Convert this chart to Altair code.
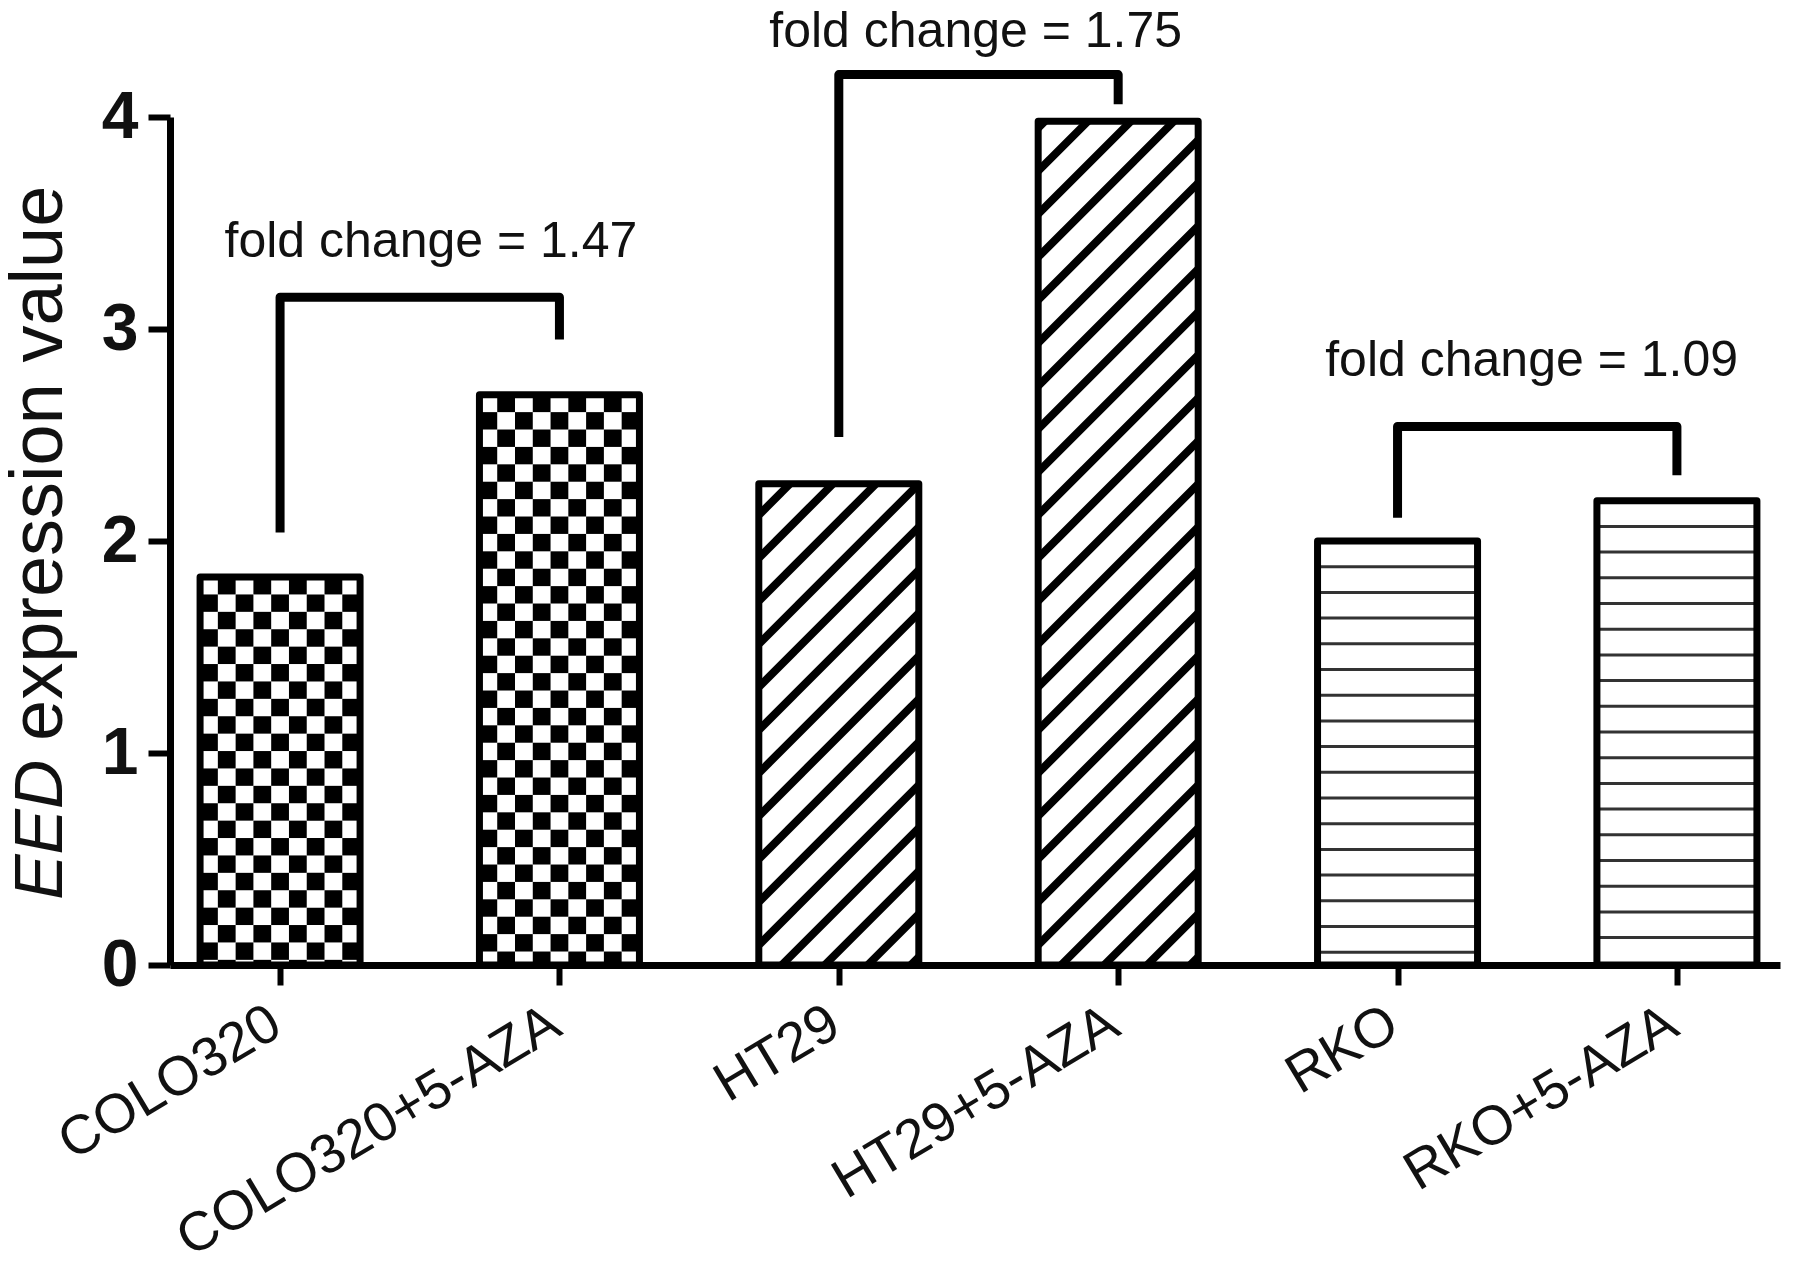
import json
import numpy as np
import pandas as pd
import altair as alt

# ---------------- data ----------------
categories = ["COLO320", "COLO320+5-AZA", "HT29", "HT29+5-AZA", "RKO", "RKO+5-AZA"]
values = [1.83, 2.69, 2.27, 3.98, 2.00, 2.19]
patterns = ["checker", "checker", "hatch", "hatch", "lines", "lines"]
y_ticks = [0, 1, 2, 3, 4]

bracket_left = [0, 2, 4]
bracket_right = [1, 3, 5]
bracket_left_bottom = [2.04, 2.49, 2.11]
bracket_top = [3.15, 4.20, 2.54]
bracket_right_bottom = [2.95, 4.06, 2.31]
fold_text = ["fold change = 1.47", "fold change = 1.75", "fold change = 1.09"]
fold_text_x = [0.54, 2.49, 4.48]
fold_text_y = [3.34, 4.33, 2.78]

# ---------------- layout / style ----------------
W, H = 1610, 848
X_DOM = [-0.394, 5.369]
Y_DOM = [0, 4]
PX_X = W / (X_DOM[1] - X_DOM[0])
PX_Y = H / (Y_DOM[1] - Y_DOM[0])
BAR_PX = 160
HALF = BAR_PX / 2 / PX_X
FONT = "Liberation Sans"

xs = alt.Scale(domain=X_DOM, nice=False, zero=False)
ys = alt.Scale(domain=Y_DOM, nice=False, zero=False)

label_expr = json.dumps(categories) + "[datum.value]"
XAXIS = alt.Axis(
    values=list(range(len(categories))), labelExpr=label_expr, title=None,
    grid=False, domainWidth=7, domainColor="black", tickWidth=6, tickSize=20,
    tickColor="black", labelFont=FONT, labelFontSize=55, labelAngle=-31,
    labelAlign="right", labelBaseline="top", labelPadding=11, labelOffset=-18,
    labelColor="#111", labelOverlap=False, labelFlush=False, labelBound=False,
    labelLimit=0, zindex=1)
YAXIS = alt.Axis(
    values=y_ticks, format="d", title=None, grid=False, domainWidth=7,
    domainColor="black", tickWidth=6, tickSize=22, tickColor="black",
    labelFont=FONT, labelFontSize=66, labelFontWeight="bold", labelPadding=10,
    labelColor="#111", labelFlush=False, labelBound=False, labelLimit=0, zindex=1)


def X(f):
    return alt.X(f, scale=xs, axis=XAXIS)


def Y(f):
    return alt.Y(f, scale=ys, axis=YAXIS)


# bars
bars_df = pd.DataFrame({
    "cat": categories,
    "x": [i - HALF for i in range(len(values))],
    "x2": [i + HALF for i in range(len(values))],
    "y": [0.0] * len(values),
    "y2": values,
})

# checkerboard cells
cells = []
cell_h = 17.4 / PX_Y
ncol = 9
for i, (v, p) in enumerate(zip(values, patterns)):
    if p != "checker":
        continue
    x0 = i - HALF
    cw = 2 * HALF / ncol
    nrow = int(np.ceil(v / cell_h))
    for r in range(nrow):
        top = v - r * cell_h
        bot = max(0.0, v - (r + 1) * cell_h)
        for c in range(ncol):
            if (r + c) % 2 == 1:
                cells.append(dict(x=x0 + c * cw, x2=x0 + (c + 1) * cw, y=bot, y2=top))
cells_df = pd.DataFrame(cells)

# diagonal hatch segments (45 degrees in pixel space)
segs = []
sp = 43.0
for i, (v, p) in enumerate(zip(values, patterns)):
    if p != "hatch":
        continue
    x0 = i - HALF
    w = BAR_PX
    V = v * PX_Y
    for k in range(-int(np.ceil(w / sp)) - 1, int(np.ceil(V / sp)) + 2):
        c = k * sp + 20
        u0 = max(0.0, -c)
        u1 = min(w, V - c)
        if u1 > u0:
            segs.append(dict(x=x0 + u0 / PX_X, y=(u0 + c) / PX_Y,
                             x2=x0 + u1 / PX_X, y2=(u1 + c) / PX_Y))
segs_df = pd.DataFrame(segs)

# horizontal lines
hl = []
hsp = 25.7 / PX_Y
for i, (v, p) in enumerate(zip(values, patterns)):
    if p != "lines":
        continue
    k = 1
    while v - k * hsp > 0.02:
        hl.append(dict(x=i - HALF, x2=i + HALF, y=v - k * hsp))
        k += 1
hl_df = pd.DataFrame(hl)

# brackets
br = []
for b in range(len(bracket_left)):
    pts = [(bracket_left[b], bracket_left_bottom[b]),
           (bracket_left[b], bracket_top[b]),
           (bracket_right[b], bracket_top[b]),
           (bracket_right[b], bracket_right_bottom[b])]
    for o, (px, py) in enumerate(pts):
        br.append(dict(b=b, o=o, x=px, y=py))
br_df = pd.DataFrame(br)

txt_df = pd.DataFrame({"t": fold_text, "x": fold_text_x, "y": fold_text_y})

base_bars = alt.Chart(bars_df).mark_rect(fill="white", strokeWidth=0).encode(
    x=X("x:Q"), x2="x2:Q", y=Y("y:Q"), y2="y2:Q")

checker = alt.Chart(cells_df).mark_rect(fill="black", strokeWidth=0).encode(
    x=X("x:Q"), x2="x2:Q", y=Y("y:Q"), y2="y2:Q")

hatch = alt.Chart(segs_df).mark_rule(color="black", strokeWidth=8, strokeCap="butt").encode(
    x=X("x:Q"), x2="x2:Q", y=Y("y:Q"), y2="y2:Q")

hlines = alt.Chart(hl_df).mark_rule(color="#333", strokeWidth=3).encode(
    x=X("x:Q"), x2="x2:Q", y=Y("y:Q"))

outline = alt.Chart(bars_df).mark_rect(fillOpacity=0, stroke="black", strokeWidth=7,
                                       strokeJoin="round").encode(
    x=X("x:Q"), x2="x2:Q", y=Y("y:Q"), y2="y2:Q")

brackets = alt.Chart(br_df).mark_line(color="black", strokeWidth=9, strokeJoin="round",
                                      strokeCap="butt").encode(
    x=X("x:Q"), y=Y("y:Q"), detail="b:N", order="o:Q")

fold = alt.Chart(txt_df).mark_text(font=FONT, fontSize=50, color="#111", align="center",
                                   baseline="alphabetic").encode(
    x=X("x:Q"), y=Y("y:Q"), text="t:N")

one = pd.DataFrame({"k": [0]})
title_eed = alt.Chart(one).mark_text(text="EED", font=FONT, fontSize=68, fontStyle="italic",
                                     angle=270, align="right", baseline="alphabetic",
                                     color="#111").encode(
    x=alt.value(-108), y=alt.value(643))
title_rest = alt.Chart(one).mark_text(text="expression value", font=FONT, fontSize=74,
                                      angle=270, align="left", baseline="alphabetic",
                                      color="#111").encode(
    x=alt.value(-108), y=alt.value(624))

chart = alt.layer(base_bars, checker, hatch, hlines, outline, brackets, fold,
                  title_eed, title_rest).properties(
    width=W, height=H,
    background="white",
    autosize=alt.AutoSizeParams(type="none"),
    padding={"left": 162, "top": 109, "right": 5, "bottom": 300},
).configure_view(stroke=None)

chart.save("out.html", embed_options={"renderer": "svg", "actions": False})
